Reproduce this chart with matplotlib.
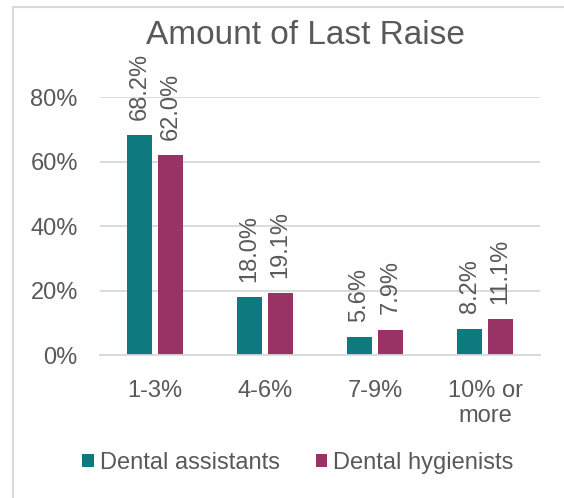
import numpy as np
import matplotlib.pyplot as plt
from matplotlib.patches import Rectangle
from matplotlib.ticker import FuncFormatter

plt.rcParams['font.family'] = ['Liberation Sans', 'DejaVu Sans']

# data
categories = ['1-3%', '4-6%', '7-9%', '10% or\nmore']
assistants = [68.2, 18.0, 5.6, 8.2]
hygienists = [62.0, 19.1, 7.9, 11.1]
series_names = ['Dental assistants', 'Dental hygienists']

teal = '#0E7A80'
plum = '#993366'
grey_txt = '#595959'
grid_col = '#D9D9D9'
fs = 17

fig = plt.figure(figsize=(5.64, 4.98), dpi=100)
ax = fig.add_axes([100/564, (498-355)/498, (540-100)/564, (355-97)/498])

# outer chart border (cut off on right and bottom like the original)
fig.patches.append(Rectangle((13/564, -0.1), 1.2, 1 - 7/498 + 0.1,
                             transform=fig.transFigure, fill=False,
                             edgecolor=grid_col, linewidth=1.5))

x = np.arange(len(categories))
w = 0.227
off = 0.14
b1 = ax.bar(x - off, assistants, w, color=teal, label=series_names[0], zorder=3)
b2 = ax.bar(x + off, hygienists, w, color=plum, label=series_names[1], zorder=3)

for bars, vals in ((b1, assistants), (b2, hygienists)):
    for r, v in zip(bars, vals):
        ax.annotate('%.1f%%' % v, (r.get_x() + r.get_width()/2, r.get_height()),
                    xytext=(0, 11), textcoords='offset points',
                    rotation=90, ha='center', va='bottom',
                    fontsize=fs, color=grey_txt, annotation_clip=False)

ax.set_xlim(-0.5, 3.5)
ax.set_ylim(0, 80)
ax.set_yticks([0, 20, 40, 60, 80])
ax.yaxis.set_major_formatter(FuncFormatter(lambda v, p: '%d%%' % v))
ax.set_xticks(x)
ax.set_xticklabels(categories)
ax.tick_params(axis='both', length=0, labelsize=fs, labelcolor=grey_txt)
ax.tick_params(axis='x', pad=18)
ax.tick_params(axis='y', pad=16)
ax.yaxis.grid(True, color=grid_col, linewidth=1.3, zorder=0)
ax.set_axisbelow(True)
for s in ['left', 'right', 'top']:
    ax.spines[s].set_visible(False)
ax.spines['bottom'].set_color(grid_col)
ax.spines['bottom'].set_linewidth(1.3)
ax.spines['bottom'].set_zorder(4)

fig.text(305/564, 1 - 35/498, 'Amount of Last Raise', ha='center', va='center',
         fontsize=24, color=grey_txt)

fig.legend(loc='center', bbox_to_anchor=(298/564, 1 - 463/498), ncol=2,
           frameon=False, fontsize=fs, labelcolor=grey_txt,
           handlelength=0.5, handleheight=0.5, handletextpad=0.25,
           columnspacing=1.5)

fig.savefig('out.png', dpi=100)
